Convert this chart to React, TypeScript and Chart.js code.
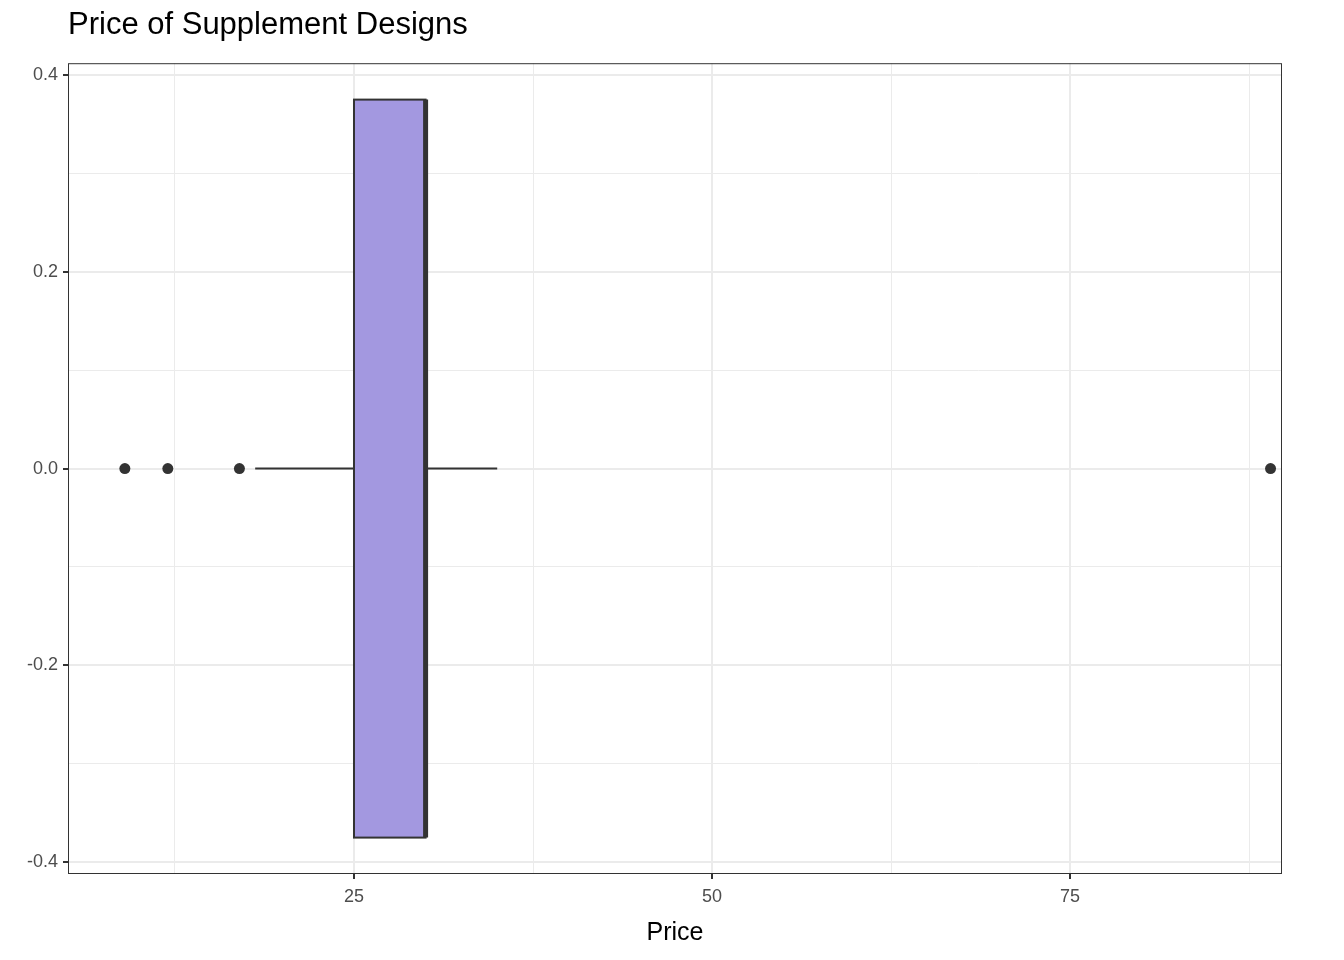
import { useEffect, useRef } from 'react';
import { Chart, registerables } from 'chart.js';

Chart.register(...registerables);

// box statistics for Price
const whiskerLow = 18.1;
const whiskerHigh = 35;
const q1 = 25;
const median = 30;
const q3 = 30;
const outliers = [9, 12, 17, 89];
const boxHalfHeight = 0.375;

const xTicks = [12.5, 25, 37.5, 50, 62.5, 75, 87.5];
const xLabels = [25, 50, 75];
const yTicks = [-0.4, -0.3, -0.2, -0.1, 0, 0.1, 0.2, 0.3, 0.4];
const yLabels = [-0.4, -0.2, 0, 0.2, 0.4];

const isYLabel = (v: number) => yLabels.some((l) => Math.abs(l - v) < 1e-6);

const boxPlugin = {
  id: 'boxPlot',
  afterDatasetsDraw(chart: any) {
    const { ctx, scales, chartArea } = chart;
    const x = scales.x;
    const y = scales.y;
    const y0 = y.getPixelForValue(0);
    const yTop = y.getPixelForValue(boxHalfHeight);
    const yBot = y.getPixelForValue(-boxHalfHeight);
    ctx.save();
    ctx.strokeStyle = '#333333';
    ctx.lineWidth = 2;
    ctx.beginPath();
    ctx.moveTo(x.getPixelForValue(whiskerLow), y0);
    ctx.lineTo(x.getPixelForValue(q1), y0);
    ctx.moveTo(x.getPixelForValue(q3), y0);
    ctx.lineTo(x.getPixelForValue(whiskerHigh), y0);
    ctx.stroke();
    const xl = x.getPixelForValue(q1);
    const xr = x.getPixelForValue(q3);
    ctx.fillStyle = '#a398e0';
    ctx.fillRect(xl, yTop, xr - xl, yBot - yTop);
    ctx.strokeRect(xl, yTop, xr - xl, yBot - yTop);
    ctx.lineWidth = 5;
    ctx.beginPath();
    const xm = x.getPixelForValue(median);
    ctx.moveTo(xm, yTop);
    ctx.lineTo(xm, yBot);
    ctx.stroke();
    ctx.fillStyle = '#333333';
    outliers.forEach((v) => {
      ctx.beginPath();
      ctx.arc(x.getPixelForValue(v), y0, 5.5, 0, Math.PI * 2);
      ctx.fill();
    });
    ctx.lineWidth = 1;
    ctx.strokeStyle = '#333333';
    ctx.strokeRect(chartArea.left + 0.5, chartArea.top + 0.5, chartArea.width - 1, chartArea.height - 1);
    ctx.restore();
  },
};

export default function App() {
  const chartRef = useRef<HTMLCanvasElement | null>(null);

  useEffect(() => {
    document.body.style.margin = '0';
    if (chartRef.current === null) return () => {};
    const aChart = new Chart(chartRef.current, {
      type: 'scatter',
      data: { datasets: [{ data: [], pointRadius: 0 }] },
      options: {
        animation: false,
        responsive: false,
        layout: { padding: { left: 0, right: 62, top: 0, bottom: 0 } },
        plugins: {
          legend: { display: false },
          tooltip: { enabled: false },
          title: {
            display: true,
            text: 'Price of Supplement Designs',
            align: 'start',
            fullSize: false,
            color: '#000000',
            font: { family: 'Liberation Sans, Arial, sans-serif', size: 31, weight: 'normal' },
            padding: { top: 7, bottom: 19 },
          },
        },
        scales: {
          x: {
            type: 'linear',
            min: 5.03,
            max: 89.8,
            afterBuildTicks: (s: any) => { s.ticks = xTicks.map((v) => ({ value: v })); },
            afterFit: (s: any) => { s.height = 86; },
            border: { display: false },
            grid: {
              color: '#ebebeb',
              lineWidth: (c: any) => (xLabels.includes(c.tick?.value) ? 2 : 1),
              tickColor: (c: any) => (xLabels.includes(c.tick?.value) ? '#333333' : 'rgba(0,0,0,0)'),
              tickLength: 5,
            },
            ticks: {
              autoSkip: false,
              maxRotation: 0,
              padding: 7,
              color: '#4d4d4d',
              font: { family: 'Liberation Sans, Arial, sans-serif', size: 18 },
              callback: (v: any) => (xLabels.includes(v) ? String(v) : ''),
            },
            title: {
              display: true,
              text: 'Price',
              color: '#000000',
              font: { family: 'Liberation Sans, Arial, sans-serif', size: 25 },
              padding: { top: 2, bottom: 12 },
            },
          },
          y: {
            type: 'linear',
            min: -0.412,
            max: 0.412,
            afterBuildTicks: (s: any) => { s.ticks = yTicks.map((v) => ({ value: v })); },
            afterFit: (s: any) => { s.width = 68; },
            border: { display: false },
            grid: {
              color: '#ebebeb',
              lineWidth: (c: any) => (isYLabel(c.tick?.value) ? 2 : 1),
              tickColor: (c: any) => (isYLabel(c.tick?.value) ? '#333333' : 'rgba(0,0,0,0)'),
              tickLength: 5,
            },
            ticks: {
              autoSkip: false,
              padding: 5,
              color: '#4d4d4d',
              font: { family: 'Liberation Sans, Arial, sans-serif', size: 18 },
              callback: (v: any) => (isYLabel(v) ? Number(v).toFixed(1) : ''),
            },
          },
        },
      },
      plugins: [boxPlugin],
    });
    return () => {
      aChart.destroy();
    };
  }, []);

  return (
    <div style={{ width: 1344, height: 960, background: '#ffffff' }}>
      <canvas ref={chartRef} width={1344} height={960} />
    </div>
  );
}
